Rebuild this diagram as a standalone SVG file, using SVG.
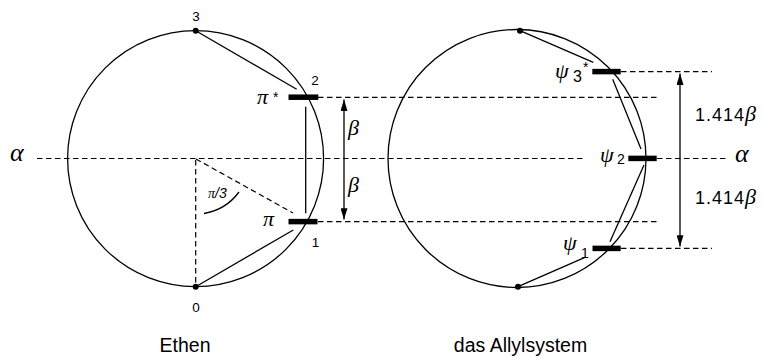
<svg xmlns="http://www.w3.org/2000/svg" width="764" height="357" viewBox="0 0 764 357">
<defs>
<style>
.ln{stroke:#000;stroke-width:1.3;fill:none}
.dash{stroke:#000;stroke-width:1.2;fill:none;stroke-dasharray:5.5 3.5}
.bar{stroke:#000;stroke-width:5.5}
.sans{font-family:"Liberation Sans",Arial,sans-serif;fill:#000}
.gr{font-family:"Liberation Serif","Times New Roman",serif;font-style:italic;fill:#000}
.arr{stroke:#000;stroke-width:1.3;fill:none;marker-start:url(#ah);marker-end:url(#ah)}
</style>
<marker id="ah" viewBox="0 0 13 8" refX="13" refY="4" markerWidth="13" markerHeight="7" markerUnits="userSpaceOnUse" orient="auto-start-reverse">
<path d="M0,0 L13,4 L0,8 z" fill="#000"/>
</marker>
</defs>
<rect width="764" height="357" fill="#fff"/>

<g id="connectors">
<line class="dash" x1="37" y1="158.5" x2="586" y2="158.5"/>
<line class="dash" x1="657" y1="158.5" x2="726" y2="158.5"/>
<line class="dash" x1="318" y1="97.3" x2="657" y2="97.3"/>
<line class="dash" x1="318" y1="221.6" x2="657" y2="221.6"/>
<line class="dash" x1="621" y1="71.6" x2="712" y2="71.6"/>
<line class="dash" x1="621" y1="248.4" x2="712" y2="248.4"/>
<line class="arr" x1="344" y1="99.5" x2="344" y2="219.5"/>
<line class="arr" x1="680" y1="73.5" x2="680" y2="246.5"/>
</g>

<g id="ethen">
<circle class="ln" cx="195.6" cy="158.6" r="128"/>
<line class="dash" x1="195.7" y1="160" x2="195.7" y2="286"/>
<line class="dash" x1="196" y1="159" x2="293" y2="213"/>
<path class="ln" d="M204,213.5 A55,55 0 0 0 239,192"/>
<line class="ln" x1="195.7" y1="30.7" x2="296.7" y2="89.3"/>
<line class="ln" x1="305.7" y1="106.7" x2="305.7" y2="213.3"/>
<line class="ln" x1="195.7" y1="286.7" x2="293.3" y2="230"/>
<circle cx="195.7" cy="30.7" r="3"/>
<circle cx="195.7" cy="286.7" r="3"/>
<line class="bar" x1="288.5" y1="97.2" x2="318.3" y2="97.2"/>
<line class="bar" x1="288.5" y1="221.6" x2="317.5" y2="221.6"/>
<text class="sans" x="196" y="21" font-size="13.5" text-anchor="middle">3</text>
<text class="sans" x="315" y="85" font-size="13.5" text-anchor="middle">2</text>
<text class="sans" x="315.5" y="247" font-size="13.5" text-anchor="middle">1</text>
<text class="sans" x="196" y="312" font-size="13.5" text-anchor="middle">0</text>
<text class="gr" x="257" y="104" font-size="22">π</text>
<text class="sans" x="273" y="102" font-size="14">*</text>
<text class="gr" x="263" y="226" font-size="22">π</text>
<text x="208" y="198" font-size="14"><tspan class="gr">π</tspan><tspan class="sans" font-style="italic">/3</tspan></text>
<text class="sans" x="185" y="352" font-size="19.5" text-anchor="middle">Ethen</text>
</g>

<g id="allyl">
<circle class="ln" cx="517" cy="158.5" r="129"/>
<line class="ln" x1="520" y1="30.7" x2="593.3" y2="62.3"/>
<line class="ln" x1="612.7" y1="79.3" x2="641" y2="149"/>
<line class="ln" x1="644" y1="165" x2="610" y2="241.7"/>
<line class="ln" x1="585" y1="257.3" x2="518" y2="286.7"/>
<circle cx="520" cy="30.7" r="3"/>
<circle cx="518" cy="286.7" r="3"/>
<line class="bar" x1="592.3" y1="71.6" x2="620.7" y2="71.6"/>
<line class="bar" x1="628.3" y1="158.4" x2="656.7" y2="158.4"/>
<line class="bar" x1="592.5" y1="248.4" x2="620.7" y2="248.4"/>
<text class="gr" x="555" y="78" font-size="22">ψ</text>
<text class="sans" x="573" y="82" font-size="16">3</text>
<text class="sans" x="583" y="72" font-size="14">*</text>
<text class="gr" x="600" y="162" font-size="22">ψ</text>
<text class="sans" x="617" y="163.5" font-size="14">2</text>
<text class="gr" x="563" y="250" font-size="22">ψ</text>
<text class="sans" x="581" y="258" font-size="14">1</text>
<text class="sans" x="520.5" y="352" font-size="19.5" text-anchor="middle">das Allylsystem</text>
</g>

<g id="labels">
<text class="gr" x="10" y="161" font-size="26">α</text>
<text class="gr" x="735" y="162" font-size="26">α</text>
<text class="gr" x="348" y="135" font-size="22">β</text>
<text class="gr" x="348" y="192" font-size="22">β</text>
<text x="695" y="120.7" font-size="18"><tspan class="sans" letter-spacing="1">1.414</tspan><tspan class="gr" font-size="22">β</tspan></text>
<text x="695" y="204.3" font-size="18"><tspan class="sans" letter-spacing="1">1.414</tspan><tspan class="gr" font-size="22">β</tspan></text>
</g>
</svg>
